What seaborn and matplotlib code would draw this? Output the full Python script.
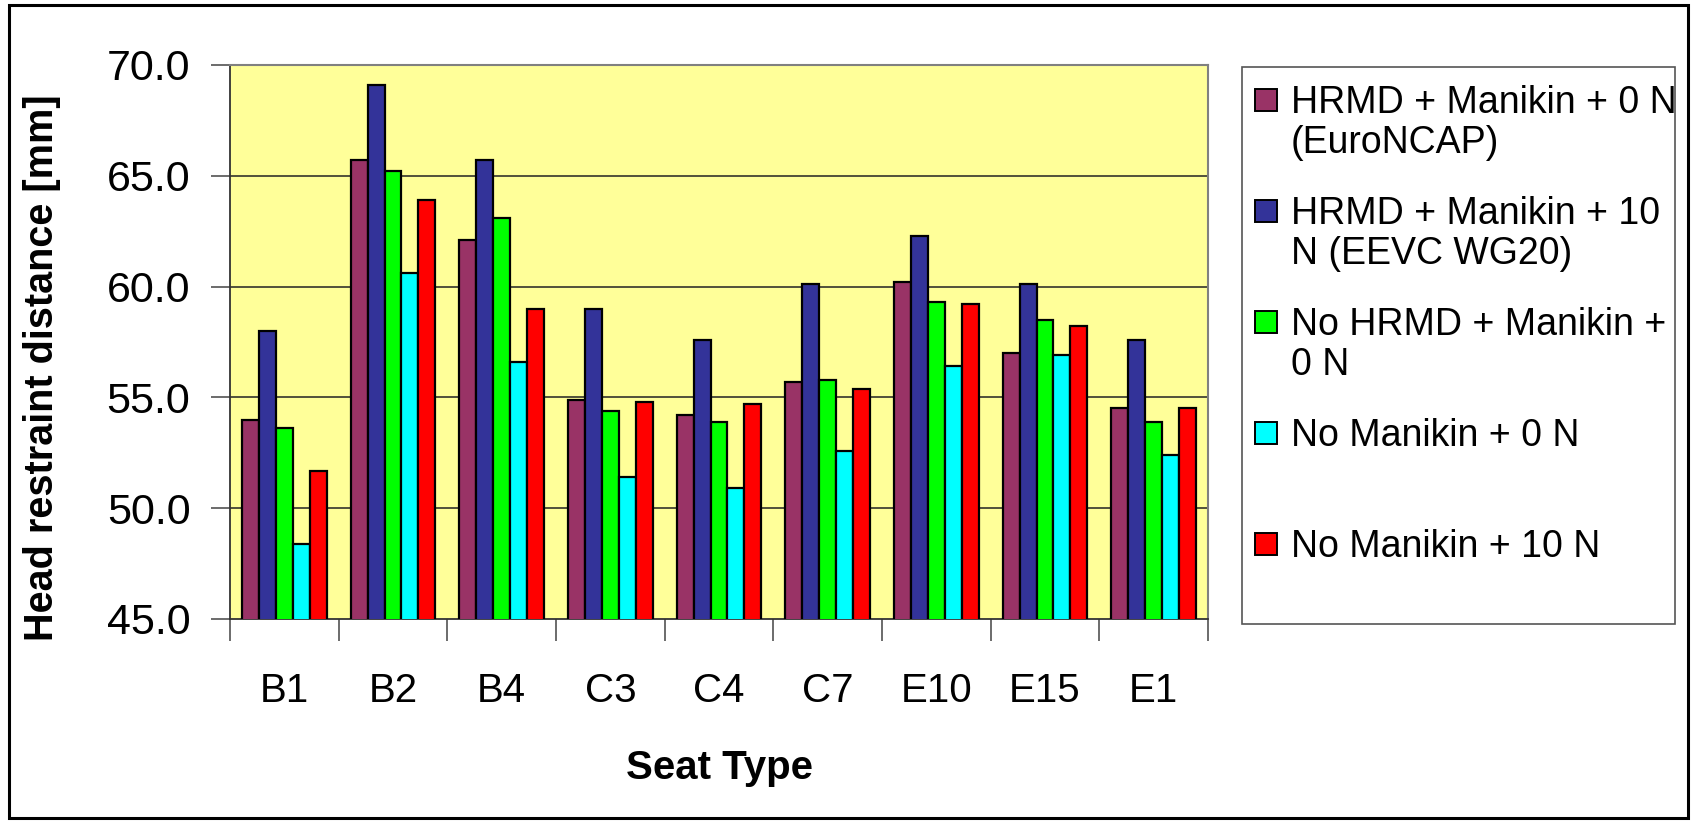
import matplotlib
matplotlib.use("Agg")
import matplotlib.pyplot as plt
from matplotlib.patches import Rectangle
import numpy as np
import pandas as pd
import seaborn as sns

# Seat types and measured head restraint distances [mm] per condition
seats = ["B1", "B2", "B4", "C3", "C4", "C7", "E10", "E15", "E1"]
hrmd_manikin_0n = [54.0, 65.7, 62.1, 54.9, 54.2, 55.7, 60.2, 57.0, 54.5]
hrmd_manikin_10n = [58.0, 69.1, 65.7, 59.0, 57.6, 60.1, 62.3, 60.1, 57.6]
no_hrmd_manikin_0n = [53.6, 65.2, 63.1, 54.4, 53.9, 55.8, 59.3, 58.5, 53.9]
no_manikin_0n = [48.4, 60.6, 56.6, 51.4, 50.9, 52.6, 56.4, 56.9, 52.4]
no_manikin_10n = [51.7, 63.9, 59.0, 54.8, 54.7, 55.4, 59.2, 58.2, 54.5]

conditions = [
    "HRMD + Manikin + 0 N (EuroNCAP)",
    "HRMD + Manikin + 10 N (EEVC WG20)",
    "No HRMD + Manikin + 0 N",
    "No Manikin + 0 N",
    "No Manikin + 10 N",
]
legend_lines = [
    ["HRMD + Manikin + 0 N", "(EuroNCAP)"],
    ["HRMD + Manikin + 10", "N (EEVC WG20)"],
    ["No HRMD + Manikin +", "0 N"],
    ["No Manikin + 0 N"],
    ["No Manikin + 10 N"],
]
colors = ["#993366", "#333399", "#00FF00", "#00FFFF", "#FF0000"]
y_ticks = [45.0, 50.0, 55.0, 60.0, 65.0, 70.0]

series = [hrmd_manikin_0n, hrmd_manikin_10n, no_hrmd_manikin_0n,
          no_manikin_0n, no_manikin_10n]
df = pd.DataFrame(
    [(s, c, v) for c, vals in zip(conditions, series) for s, v in zip(seats, vals)],
    columns=["seat", "condition", "value"],
)

sns.set_theme(style="white")
plt.rcParams["font.family"] = ["Liberation Sans", "DejaVu Sans"]

W, H = 1694, 823
fig = plt.figure(figsize=(W / 100, H / 100), dpi=100)
fig.patch.set_facecolor("white")


def fx(px):
    return px / W


def fy(py):
    return 1 - py / H


ax_l, ax_r, ax_t, ax_b = 230, 1208, 65, 619
ax = fig.add_axes([fx(ax_l), fy(ax_b), fx(ax_r - ax_l), (ax_b - ax_t) / H])
ax.set_facecolor("#FFFF99")

sns.barplot(
    data=df, x="seat", y="value", hue="condition", order=seats,
    hue_order=conditions, palette=colors, saturation=1, width=0.78, gap=0,
    edgecolor="black", linewidth=1.6, errorbar=None, legend=False, ax=ax,
    zorder=3,
)

ax.set_ylim(45, 70)
ax.set_xlim(-0.5, len(seats) - 0.5)
ax.set_yticks(y_ticks)
ax.set_yticklabels([f"{t:.1f}" for t in y_ticks])
for t in y_ticks[1:-1]:
    ax.axhline(t, color="#222222", linewidth=1.1, zorder=1)

# Category labels centred, tick marks on the group boundaries
ax.set_xticks(range(len(seats)))
ax.set_xticklabels(seats)
ax.set_xticks(np.arange(-0.5, len(seats)), minor=True)
ax.tick_params(axis="x", which="major", length=0, pad=38, labelsize=29,
               colors="black")
ax.tick_params(axis="x", which="minor", length=16, width=1.1, color="#444444",
               direction="out")
ax.tick_params(axis="y", which="major", length=14, width=1.1, color="#444444",
               direction="out", pad=14.5, labelsize=31, labelcolor="black")
ax.tick_params(axis="y", which="minor", length=0)
ax.xaxis.set_ticks_position("bottom")
ax.yaxis.set_ticks_position("left")

ax.set_xlabel("Seat Type", fontsize=29, fontweight="bold", labelpad=28,
              color="black")
ax.set_ylabel("Head restraint distance [mm]", fontsize=28.5, fontweight="bold",
              labelpad=33, color="black")
ax.yaxis.label.set_y(0.453)

for side in ["left", "bottom"]:
    ax.spines[side].set_color("#333333")
    ax.spines[side].set_linewidth(1.3)
for side in ["top", "right"]:
    ax.spines[side].set_color("#808080")
    ax.spines[side].set_linewidth(1.5)

# Legend box with square swatches aligned to the first text line
lx0, lx1, ly0, ly1 = 1242, 1675, 67, 624
fig.add_artist(Rectangle((fx(lx0), fy(ly1)), fx(lx1 - lx0), (ly1 - ly0) / H,
                         transform=fig.transFigure, facecolor="white",
                         edgecolor="#555555", linewidth=1.2))
sq = 22
for i, (lines, col) in enumerate(zip(legend_lines, colors)):
    cy = 100 + 111 * i
    fig.add_artist(Rectangle((fx(1255), fy(cy + sq / 2)), fx(sq), sq / H,
                             transform=fig.transFigure, facecolor=col,
                             edgecolor="black", linewidth=1.4))
    for j, line in enumerate(lines):
        fig.text(fx(1291), fy(cy + 40 * j + 13), line, fontsize=27,
                 color="black", ha="left", va="baseline")

# Outer chart frame
fig.add_artist(Rectangle((fx(9), fy(818)), fx(1688 - 9), (818 - 5) / H,
                         transform=fig.transFigure, facecolor="none",
                         edgecolor="black", linewidth=2.2))

fig.savefig("out.png", dpi=100)
